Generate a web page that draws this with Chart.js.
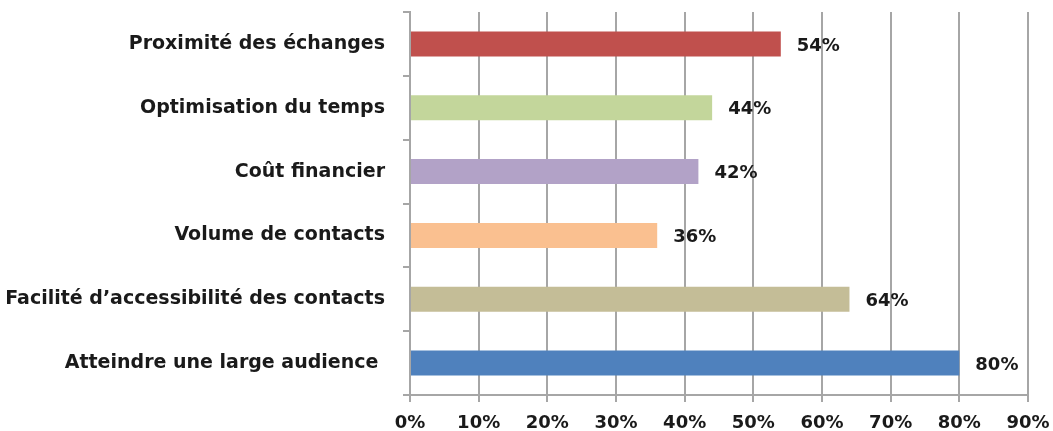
<!DOCTYPE html>
<html lang="fr">
<head>
<meta charset="utf-8">
<script src="https://cdn.jsdelivr.net/npm/chart.js@4/dist/chart.umd.min.js"></script>
<style>
  html, body { margin: 0; padding: 0; background: #fff; }
  #wrap { width: 1053px; height: 431px; position: relative; }
</style>
</head>
<body>
<div id="wrap"><canvas id="chart"></canvas></div>
<script>
// Catégories et pourcentages (de haut en bas)
const CATEGORIES = [
  "Proximité des échanges",
  "Optimisation du temps",
  "Coût financier",
  "Volume de contacts",
  "Facilité d\u2019accessibilité des contacts",
  "Atteindre une large audience ",
];
const VALUES = [54, 44, 42, 36, 64, 80];
const BAR_COLORS = ["#C0504D", "#C3D69B", "#B2A2C7", "#FAC090", "#C4BD97", "#4F81BD"];
const X_TICKS = [0, 10, 20, 30, 40, 50, 60, 70, 80, 90];

const FONT = "'DejaVu Sans', 'Open Sans', sans-serif";
const AXIS_GREY = "#A6A6A6";
const TEXT = "#1a1a1a";

// Étiquettes de valeur à droite des barres
const valueLabels = {
  id: "valueLabels",
  afterDatasetsDraw(chart) {
    const ctx = chart.ctx;
    const meta = chart.getDatasetMeta(0);
    ctx.save();
    ctx.font = "bold 18px " + FONT;
    ctx.fillStyle = TEXT;
    ctx.textAlign = "left";
    ctx.textBaseline = "middle";
    meta.data.forEach((bar, i) => {
      ctx.fillText(VALUES[i] + "%", bar.x + 16, bar.y + 2);
    });
    ctx.restore();
  },
};

new Chart(document.getElementById("chart"), {
  type: "bar",
  data: {
    labels: CATEGORIES,
    datasets: [
      {
        data: VALUES,
        backgroundColor: BAR_COLORS,
        borderWidth: 0,
        categoryPercentage: 0.8,
        barPercentage: 0.49,
      },
    ],
  },
  options: {
    indexAxis: "y",
    responsive: true,
    maintainAspectRatio: false,
    animation: false,
    layout: { padding: { top: 12, right: 25, bottom: 0, left: 0 } },
    plugins: {
      legend: { display: false },
      tooltip: { enabled: false },
    },
    scales: {
      x: {
        min: 0,
        max: 90,
        afterBuildTicks(axis) {
          axis.ticks = X_TICKS.map((v) => ({ value: v }));
        },
        afterFit(axis) {
          axis.height = 36;
          axis.paddingLeft = 0;
          axis.paddingRight = 0;
        },
        border: { display: true, color: AXIS_GREY, width: 2 },
        grid: {
          color: AXIS_GREY,
          lineWidth: 2,
          tickLength: 7,
        },
        ticks: {
          padding: 11,
          color: TEXT,
          font: { family: FONT, size: 18, weight: "bold" },
          callback: (v) => v + "%",
        },
      },
      y: {
        afterFit(axis) {
          axis.width = 410;
          axis.paddingTop = 0;
          axis.paddingBottom = 0;
        },
        border: { display: true, color: AXIS_GREY, width: 2 },
        grid: {
          offset: true,
          drawOnChartArea: false,
          color: AXIS_GREY,
          lineWidth: 2,
          tickLength: 7,
        },
        ticks: {
          padding: 18,
          color: TEXT,
          font: { family: FONT, size: 19, weight: "bold" },
        },
      },
    },
  },
  plugins: [valueLabels],
});
</script>
</body>
</html>
